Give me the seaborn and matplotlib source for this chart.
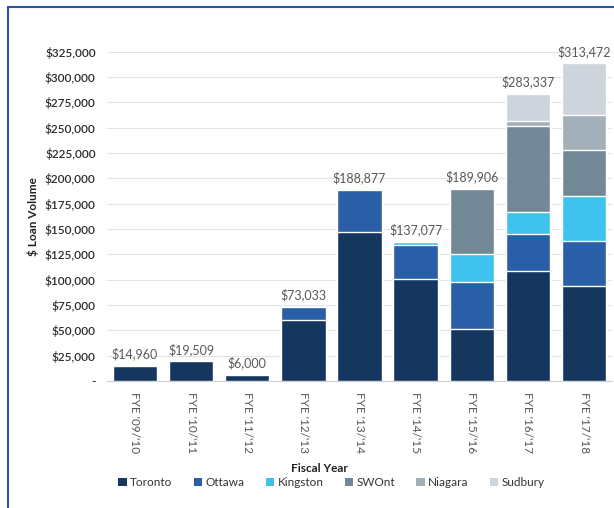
import numpy as np
import pandas as pd
import matplotlib
matplotlib.use("Agg")
import matplotlib.pyplot as plt
import seaborn as sns
from matplotlib.patches import Patch
from matplotlib.ticker import FuncFormatter, MultipleLocator

years = ["FYE '09/'10", "FYE '10/'11", "FYE '11/'12", "FYE '12/'13", "FYE '13/'14",
         "FYE '14/'15", "FYE '15/'16", "FYE '16/'17", "FYE '17/'18"]
regions = ["Toronto", "Ottawa", "Kingston", "SWOnt", "Niagara", "Sudbury"]

toronto = [14960, 19509, 6000, 60000, 147000, 101000, 51000, 109000, 94000]
ottawa = [0, 0, 0, 13033, 41877, 33000, 46500, 36500, 44000]
kingston = [0, 0, 0, 0, 0, 3077, 27500, 21000, 45000]
swont = [0, 0, 0, 0, 0, 0, 64906, 85500, 45000]
niagara = [0, 0, 0, 0, 0, 0, 0, 4500, 34500]
sudbury = [0, 0, 0, 0, 0, 0, 0, 26837, 50972]

colors = ["#15365e", "#2a5ea6", "#3fc3ee", "#738897", "#a3b0b9", "#cdd4db"]

df = pd.DataFrame({"Year": years, "Toronto": toronto, "Ottawa": ottawa,
                   "Kingston": kingston, "SWOnt": swont, "Niagara": niagara,
                   "Sudbury": sudbury})
cum = df[regions].cumsum(axis=1)
cum["Year"] = df["Year"]
totals = df[regions].sum(axis=1)

sns.set_style("white")
plt.rcParams["font.family"] = ["Lato", "DejaVu Sans"]

fig = plt.figure(figsize=(6.14, 5.08), dpi=100)
ax = fig.add_axes([0.174, 0.25, 0.823, 0.648])

# stacked bars: draw cumulative totals from the top layer down
for reg, col in zip(reversed(regions), reversed(colors)):
    sns.barplot(data=cum, x="Year", y=reg, order=years, color=col,
                width=0.79, saturation=1, ax=ax, errorbar=None, zorder=3)

for i, t in enumerate(totals):
    ax.annotate(f"${t:,.0f}", (i, t), xytext=(0, 4), textcoords="offset points",
                ha="center", va="bottom", fontsize=9, color="#595959",
                annotation_clip=False)

ax.set_ylim(0, 325000)
ax.yaxis.set_major_locator(MultipleLocator(25000))
ax.yaxis.set_major_formatter(FuncFormatter(lambda v, p: "-" if v == 0 else f"${v:,.0f}"))
ax.grid(axis="y", color="#e3e3e3", linewidth=0.8, zorder=0)
for s in ["top", "right", "left"]:
    ax.spines[s].set_visible(False)
ax.spines["bottom"].set_color("#d0d0d0")

ax.tick_params(axis="y", labelsize=8.5, labelcolor="#2b2b2b", length=0, pad=8)
ax.tick_params(axis="x", labelsize=8.5, labelcolor="#555555", length=0, pad=8)
plt.setp(ax.get_xticklabels(), rotation=270)
plt.setp(ax.get_yticklabels(), fontweight="semibold")

ax.set_ylabel("$ Loan Volume", fontsize=8.5, fontweight="bold", color="#222222", labelpad=4)
ax.set_xlabel("Fiscal Year", fontsize=8.5, fontweight="bold", color="#222222", labelpad=6)
ax.xaxis.set_label_coords(0.42, -0.25)

handles = [Patch(facecolor=c, edgecolor="none", label=r) for r, c in zip(regions, colors)]
fig.legend(handles=handles, loc="center", bbox_to_anchor=(0.54, 0.05), ncol=6,
           frameon=False, fontsize=8.5, handlelength=0.7, handleheight=0.7,
           handletextpad=0.3, columnspacing=1.8, labelcolor="#333333")

# blue frame around the chart area
fig.add_artist(plt.Line2D([0.013, 0.013], [0.0, 0.986], transform=fig.transFigure,
                          color="#2f52a3", linewidth=1.5))
fig.add_artist(plt.Line2D([0.013, 1.0], [0.986, 0.986], transform=fig.transFigure,
                          color="#2f52a3", linewidth=1.5))

fig.savefig("out.png", dpi=100)
